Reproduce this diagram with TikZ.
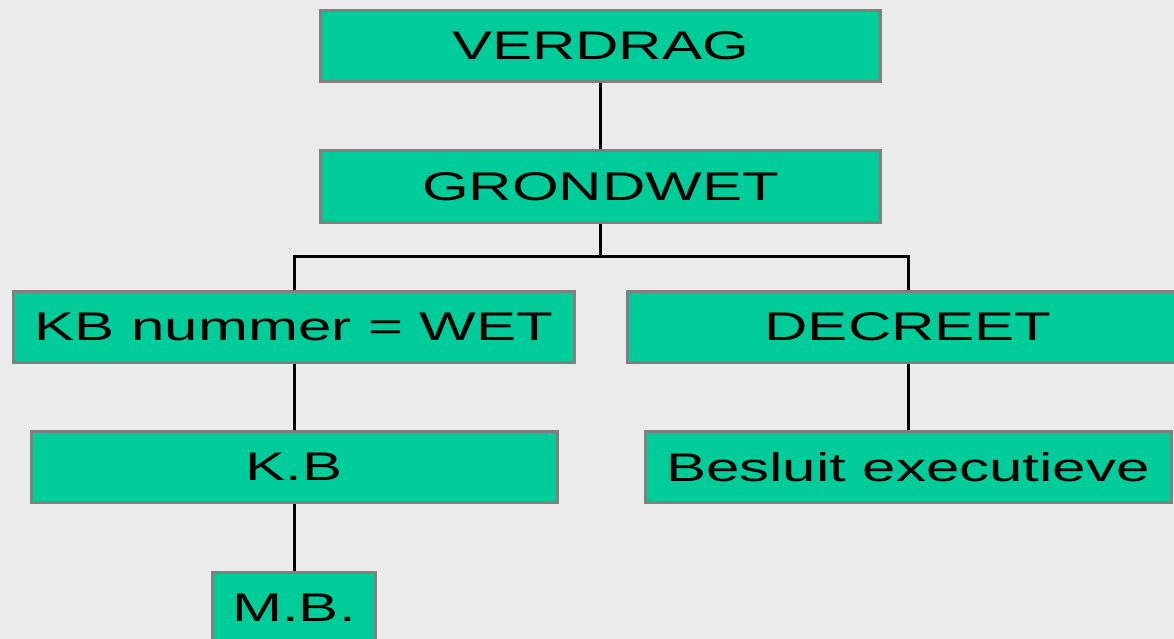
\documentclass[tikz,border=0pt]{standalone}
\usepackage{fontspec}
\setmainfont{Liberation Sans}[FakeStretch=1.5]
\usepackage{xcolor}
\definecolor{achter}{HTML}{EBEBEB}
\definecolor{groen}{HTML}{00CC99}
\definecolor{rand}{HTML}{808080}
\tikzset{
	blok/.style={fill=groen,draw=rand,line width=3pt,minimum height=71pt,inner sep=0pt,font=\fontsize{40}{48}\selectfont},
	lijn/.style={black,line width=3pt}
}

\begin{document}
\begin{tikzpicture}[x=1pt,y=-1pt]
					\useasboundingbox (0,0) rectangle (1174,639);
					\fill[achter](0,0)rectangle(1174,639);
					\clip (0,0) rectangle (1174,639);
					\node[blok,minimum width=560pt] (verdrag) at (600.5,46){VERDRAG};
					\node[blok,minimum width=560pt] (grondwet) at (600.5,186.5){GRONDWET};
					\node[blok,minimum width=561pt] (kbwet) at (294,326.5){KB nummer = WET};
					\node[blok,minimum width=561pt] (decreet) at (908,326.5){DECREET};
					\node[blok,minimum width=526pt] (kb) at (294,467){K.B};
					\node[blok,minimum width=526pt] (besluit) at (908,467){Besluit executieve};
					\node[blok,minimum width=163pt] (mb) at (294,607.5){M.B.};
					\coordinate (splits) at (600.5,256.5);

					\draw[lijn](verdrag)--(grondwet);
					\draw[lijn](grondwet)--(splits);
					\draw[lijn](kbwet.north)|-(splits)-|(decreet.north);
					\draw[lijn](kbwet)--(kb);
					\draw[lijn](kb)--(mb);
					\draw[lijn](decreet)--(besluit);
				\end{tikzpicture}
\end{document}
